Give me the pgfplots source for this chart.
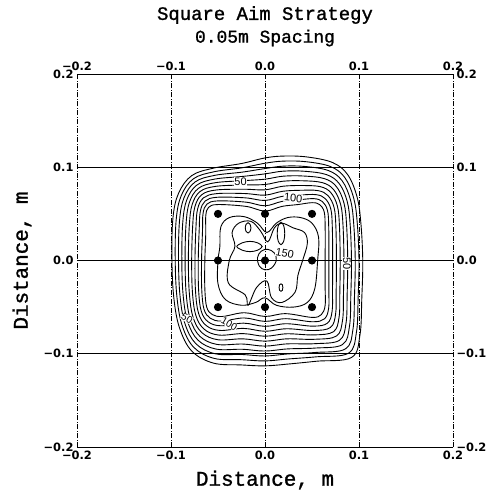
\documentclass[border=0pt]{standalone}
\usepackage{fontspec}
\setmainfont{Liberation Serif}
\newfontfamily\monofont[FakeBold=1.2]{Liberation Mono}
\newfontfamily\tickfont{DejaVu Sans}
\newfontfamily\labfont{Liberation Sans}
\usepackage{pgfplots}
\pgfplotsset{compat=1.18}
\begin{document}
\begin{tikzpicture}
\path[use as bounding box] (-77bp,-47bp) rectangle (416bp,447bp);
\pgfplotsset{
  common/.style={at={(0,0)}, anchor=south west, scale only axis,
    width=376bp, height=373bp,
    xmin=-0.2, xmax=0.2, ymin=-0.2, ymax=0.2,
    xtick={-0.2,-0.1,0,0.1,0.2}, ytick={-0.2,-0.1,0,0.1,0.2},
    xticklabels={−0.2,−0.1,0.0,0.1,0.2},
    yticklabels={−0.2,−0.1,0.0,0.1,0.2},
    major tick length=0pt,
    axis line style={draw=none},
    tick label style={font=\tickfont\bfseries\fontsize{11.5}{12}\selectfont},
  }
}
\begin{axis}[common,
  xmajorgrids, ymajorgrids,
  x grid style={black, line width=0.6pt, dash pattern=on 5pt off 1.5pt on 1pt off 1.5pt},
  y grid style={black, line width=0.9pt},
  xticklabel pos=left, yticklabel pos=left,
  clip=false,
  every axis plot/.append style={black, line width=0.9pt},
]
% contour rings, levels 10 ... 110
\addplot[smooth cycle, tension=0.6] coordinates {(0.104,0) (0.102,0.040) (0.098,0.068) (0.088,0.092) (0.072,0.105) (0.045,0.111) (0.020,0.112) (0,0.110) (-0.025,0.104) (-0.055,0.099) (-0.078,0.091) (-0.092,0.072) (-0.098,0.045) (-0.099,0) (-0.097,-0.040) (-0.091,-0.072) (-0.078,-0.097) (-0.055,-0.110) (-0.025,-0.112) (0,-0.113) (0.025,-0.111) (0.055,-0.108) (0.092,-0.104) (0.101,-0.080) (0.103,-0.040)};
\addplot[smooth cycle, tension=0.6] coordinates {(0.100,0) (0.0982,0.0395) (0.0945,0.0664) (0.085,0.0888) (0.0698,0.1007) (0.044,0.1059) (0.0198,0.1066) (0,0.1043) (-0.0245,0.0994) (-0.0545,0.0951) (-0.0762,0.0876) (-0.0891,0.0696) (-0.0945,0.0435) (-0.0955,0) (-0.0937,-0.039) (-0.0881,-0.0698) (-0.0758,-0.0931) (-0.054,-0.105) (-0.0247,-0.1064) (0,-0.1077) (0.0247,-0.1056) (0.0545,-0.1033) (0.0888,-0.0994) (0.0973,-0.0768) (0.0991,-0.039)};
\addplot[smooth cycle, tension=0.6] coordinates {(0.096,0) (0.0944,0.039) (0.091,0.0648) (0.082,0.0856) (0.0676,0.0964) (0.043,0.1008) (0.0196,0.1012) (0,0.0986) (-0.024,0.0948) (-0.054,0.0912) (-0.0744,0.0842) (-0.0862,0.0672) (-0.091,0.042) (-0.092,0) (-0.0904,-0.038) (-0.0852,-0.0676) (-0.0736,-0.0892) (-0.053,-0.100) (-0.0244,-0.1008) (0,-0.1024) (0.0244,-0.1002) (0.054,-0.0986) (0.0856,-0.0948) (0.0936,-0.0736) (0.0952,-0.038)};
\addplot[smooth cycle, tension=0.6] coordinates {(0.092,0) (0.0906,0.0385) (0.0875,0.0632) (0.079,0.0824) (0.0654,0.0921) (0.042,0.0957) (0.0194,0.0958) (0,0.0929) (-0.0235,0.0902) (-0.0535,0.0873) (-0.0726,0.0808) (-0.0833,0.0648) (-0.0875,0.0405) (-0.0885,0) (-0.0871,-0.037) (-0.0823,-0.0654) (-0.0714,-0.0853) (-0.052,-0.095) (-0.0241,-0.0952) (0,-0.0971) (0.0241,-0.0948) (0.0535,-0.0939) (0.0824,-0.0902) (0.0899,-0.0704) (0.0913,-0.037)};
\addplot[smooth cycle, tension=0.6] coordinates {(0.088,0) (0.0868,0.038) (0.084,0.0616) (0.076,0.0792) (0.0632,0.0878) (0.041,0.0906) (0.0192,0.0904) (0,0.0872) (-0.023,0.0856) (-0.053,0.0834) (-0.0708,0.0774) (-0.0804,0.0624) (-0.084,0.039) (-0.085,0) (-0.0838,-0.036) (-0.0794,-0.0632) (-0.0692,-0.0814) (-0.051,-0.090) (-0.0238,-0.0896) (0,-0.0918) (0.0238,-0.0894) (0.053,-0.0892) (0.0792,-0.0856) (0.0862,-0.0672) (0.0874,-0.036)};
\addplot[smooth cycle, tension=0.6] coordinates {(0.084,0) (0.083,0.0375) (0.0805,0.060) (0.073,0.076) (0.061,0.0835) (0.040,0.0855) (0.019,0.085) (0,0.0815) (-0.0225,0.081) (-0.0525,0.0795) (-0.069,0.074) (-0.0775,0.060) (-0.0805,0.0375) (-0.0815,0) (-0.0805,-0.035) (-0.0765,-0.061) (-0.067,-0.0775) (-0.050,-0.085) (-0.0235,-0.084) (0,-0.0865) (0.0235,-0.084) (0.0525,-0.0845) (0.076,-0.081) (0.0825,-0.064) (0.0835,-0.035)};
\addplot[smooth cycle, tension=0.6] coordinates {(0.080,0) (0.0792,0.037) (0.077,0.0584) (0.070,0.0728) (0.0588,0.0792) (0.039,0.0804) (0.0188,0.0796) (0,0.0758) (-0.022,0.0764) (-0.052,0.0756) (-0.0672,0.0706) (-0.0746,0.0576) (-0.077,0.036) (-0.078,0) (-0.0772,-0.034) (-0.0736,-0.0588) (-0.0648,-0.0736) (-0.049,-0.080) (-0.0232,-0.0784) (0,-0.0812) (0.0232,-0.0786) (0.052,-0.0798) (0.0728,-0.0764) (0.0788,-0.0608) (0.0796,-0.034)};
\addplot[smooth cycle, tension=0.6] coordinates {(0.076,0) (0.0754,0.0365) (0.0735,0.0568) (0.067,0.0696) (0.0566,0.0749) (0.038,0.0753) (0.0186,0.0742) (0,0.0701) (-0.0215,0.0718) (-0.0515,0.0717) (-0.0654,0.0672) (-0.0717,0.0552) (-0.0735,0.0345) (-0.0745,0) (-0.0739,-0.033) (-0.0707,-0.0566) (-0.0626,-0.0697) (-0.048,-0.075) (-0.0229,-0.0728) (0,-0.0759) (0.0229,-0.0732) (0.0515,-0.0751) (0.0696,-0.0718) (0.0751,-0.0576) (0.0757,-0.033)};
\addplot[smooth cycle, tension=0.6] coordinates {(0.072,0) (0.0716,0.036) (0.070,0.0552) (0.064,0.0664) (0.0544,0.0706) (0.037,0.0702) (0.0184,0.0688) (0,0.0644) (-0.021,0.0672) (-0.051,0.0678) (-0.0636,0.0638) (-0.0688,0.0528) (-0.070,0.033) (-0.071,0) (-0.0706,-0.032) (-0.0678,-0.0544) (-0.0604,-0.0658) (-0.047,-0.070) (-0.0226,-0.0672) (0,-0.0706) (0.0226,-0.0678) (0.051,-0.0704) (0.0664,-0.0672) (0.0714,-0.0544) (0.0718,-0.032)};
\addplot[smooth cycle, tension=0.6] coordinates {(0.068,0) (0.0678,0.0355) (0.0665,0.0536) (0.061,0.0632) (0.0522,0.0663) (0.036,0.0651) (0.0182,0.0634) (0,0.0587) (-0.0205,0.0626) (-0.0505,0.0639) (-0.0618,0.0604) (-0.0659,0.0504) (-0.0665,0.0315) (-0.0675,0) (-0.0673,-0.031) (-0.0649,-0.0522) (-0.0582,-0.0619) (-0.046,-0.065) (-0.0223,-0.0616) (0,-0.0653) (0.0223,-0.0624) (0.0505,-0.0657) (0.0632,-0.0626) (0.0677,-0.0512) (0.0679,-0.031)};
\addplot[smooth cycle, tension=0.6] coordinates {(0.064,0) (0.064,0.035) (0.063,0.052) (0.058,0.060) (0.050,0.062) (0.035,0.060) (0.018,0.058) (0,0.053) (-0.020,0.058) (-0.050,0.060) (-0.060,0.057) (-0.063,0.048) (-0.063,0.030) (-0.064,0) (-0.064,-0.030) (-0.062,-0.050) (-0.056,-0.058) (-0.045,-0.060) (-0.022,-0.056) (0,-0.060) (0.022,-0.057) (0.050,-0.061) (0.060,-0.058) (0.064,-0.048) (0.064,-0.030)};
% inner contours
\addplot[smooth cycle, tension=0.6] coordinates {(0.056,0.0) (0.057,0.025) (0.05,0.04) (0.038,0.046) (0.024,0.046) (0.012,0.04) (0.002,0.03) (-0.008,0.04) (-0.022,0.047) (-0.038,0.046) (-0.047,0.036) (-0.048,0.015) (-0.05,0.0) (-0.05,-0.025) (-0.042,-0.042) (-0.025,-0.048) (-0.01,-0.045) (0.0,-0.04) (0.012,-0.048) (0.03,-0.05) (0.045,-0.045) (0.053,-0.03)};
\addplot[smooth cycle, tension=0.6] coordinates {(0.040,0.0) (0.045,0.018) (0.042,0.03) (0.03,0.035) (0.018,0.04) (0.010,0.035) (0.003,0.02) (-0.005,0.032) (-0.015,0.042) (-0.028,0.04) (-0.035,0.03) (-0.032,0.015) (-0.038,0.0) (-0.039,-0.024) (-0.021,-0.037) (-0.018,-0.048) (-0.009,-0.029) (0.002,-0.022) (0.007,-0.04) (0.018,-0.045) (0.032,-0.034) (0.035,-0.016)};
\addplot[smooth cycle, tension=0.6] coordinates {(-0.015,0.035) (-0.016,0.039) (-0.018,0.0405) (-0.020,0.039) (-0.021,0.035) (-0.020,0.031) (-0.018,0.0295) (-0.016,0.031)};
\addplot[smooth cycle, tension=0.6] coordinates {(-0.030,0.015) (-0.024,0.019) (-0.016,0.0205) (-0.008,0.019) (-0.003,0.015) (-0.008,0.011) (-0.016,0.0095) (-0.024,0.011)};
\addplot[smooth cycle, tension=0.6] coordinates {(0.021,0.029) (0.020,0.037) (0.017,0.041) (0.014,0.037) (0.013,0.029) (0.014,0.021) (0.017,0.017) (0.020,0.021)};
\addplot[smooth cycle, tension=0.6] coordinates {(0.012,0.0) (0.010,0.008) (0.003,0.012) (-0.004,0.010) (-0.008,0.003) (-0.006,-0.006) (0.0,-0.010) (0.007,-0.008)};
\addplot[smooth cycle, tension=0.6] coordinates {(0.019,-0.029) (0.0185,-0.026) (0.017,-0.025) (0.0155,-0.026) (0.015,-0.029) (0.0155,-0.032) (0.017,-0.033) (0.0185,-0.032)};
% contour labels
\node[fill=white, inner sep=0.5pt, font=\labfont\fontsize{11}{11}\selectfont] at (axis cs:-0.026,0.085) {50};
\node[fill=white, inner sep=0.5pt, font=\labfont\fontsize{11}{11}\selectfont, rotate=-5] at (axis cs:0.030,0.067) {100};
\node[fill=white, inner sep=0.5pt, font=\labfont\fontsize{11}{11}\selectfont, rotate=-10] at (axis cs:0.021,0.008) {150};
\node[fill=white, inner sep=0.5pt, font=\labfont\fontsize{11}{11}\selectfont, rotate=-90] at (axis cs:0.087,-0.003) {50};
\node[fill=white, inner sep=0.3pt, font=\labfont\fontsize{10}{10}\selectfont, rotate=-30] at (axis cs:-0.083,-0.062) {50};
\node[fill=white, inner sep=0.3pt, font=\labfont\fontsize{10}{10}\selectfont, rotate=-30] at (axis cs:-0.038,-0.068) {100};
% aim points
\addplot[only marks, mark=*, mark size=3.6pt, mark options={fill=black}] coordinates {(-0.05,0.05) (0,0.05) (0.05,0.05) (-0.05,0) (0,0) (0.05,0) (-0.05,-0.05) (0,-0.05) (0.05,-0.05)};
\end{axis}
\begin{axis}[common, xticklabel pos=right, yticklabel pos=right]
\addplot[draw=none] coordinates {(0,0)};
\end{axis}
\node[font=\monofont\fontsize{19}{20}\selectfont] at (188bp,432bp) {Square Aim Strategy};
\node[font=\monofont\fontsize{18}{19}\selectfont] at (188bp,409bp) {0.05m Spacing};
\node[font=\monofont\fontsize{21}{22}\selectfont] at (188bp,-33bp) {Distance, m};
\node[font=\monofont\fontsize{21}{22}\selectfont, rotate=90] at (-55bp,186.5bp) {Distance, m};
\end{tikzpicture}
\end{document}
